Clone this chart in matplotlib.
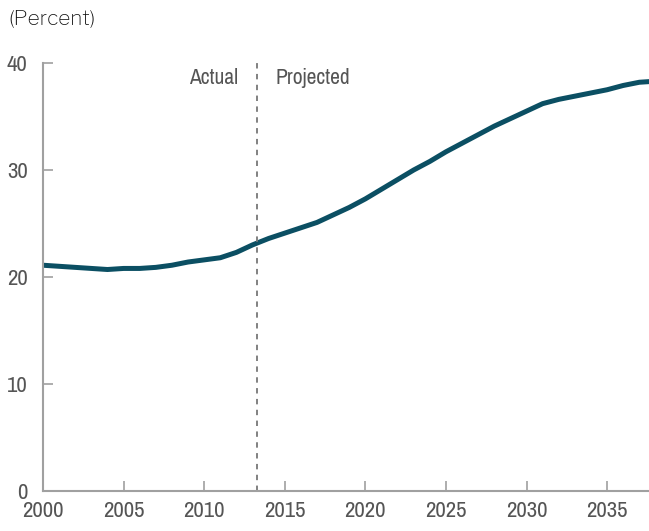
import matplotlib
matplotlib.use("Agg")
import matplotlib.pyplot as plt

years = list(range(2000, 2039))
share = [21.1, 21.0, 20.9, 20.8, 20.7, 20.8, 20.8, 20.9, 21.1, 21.4,
         21.6, 21.8, 22.3, 23.0, 23.6, 24.1, 24.6, 25.1, 25.8, 26.5,
         27.3, 28.2, 29.1, 30.0, 30.8, 31.7, 32.5, 33.3, 34.1, 34.8,
         35.5, 36.2, 36.6, 36.9, 37.2, 37.5, 37.9, 38.2, 38.3]
split_year = 2013.3
x_ticks = [2000, 2005, 2010, 2015, 2020, 2025, 2030, 2035]
y_ticks = [0, 10, 20, 30, 40]

plt.rcParams['font.family'] = ['Archivo Narrow', 'DejaVu Sans']

fig = plt.figure(figsize=(6.49, 5.31), dpi=100)
ax = fig.add_axes([43 / 649, 1 - 491 / 531, 1 - 43 / 649, (491 - 63) / 531])

ax.plot(years, share, color='#0b4f63', lw=3.6, solid_capstyle='butt', clip_on=True)
ax.axvline(split_year, color='#777777', lw=1.3, ls=(0, (3, 3)))

ax.set_xlim(2000, 2037.6)
ax.set_ylim(0, 40)
ax.set_xticks(x_ticks)
ax.set_yticks(y_ticks)

for s in ['top', 'right']:
    ax.spines[s].set_visible(False)
for s in ['left', 'bottom']:
    ax.spines[s].set_color('#a0a0a0')
    ax.spines[s].set_linewidth(1.5)
ax.tick_params(direction='in', length=7, width=1.2, color='#a0a0a0',
               labelcolor='#555555', labelsize=16.5)
ax.tick_params(axis='y', pad=11)
ax.tick_params(axis='x', pad=7)

ax.text(split_year - 1.2, 39.5, 'Actual', ha='right', va='top',
        fontsize=15.5, color='#555555')
ax.text(split_year + 1.1, 39.5, 'Projected', ha='left', va='top',
        fontsize=15.5, color='#555555')
fig.text(8 / 649, 1 - 19 / 531, '(Percent)', ha='left', va='center',
         fontsize=15, color='#111111', family=['Libre Franklin', 'DejaVu Sans'])

fig.savefig('out.png', dpi=100)
